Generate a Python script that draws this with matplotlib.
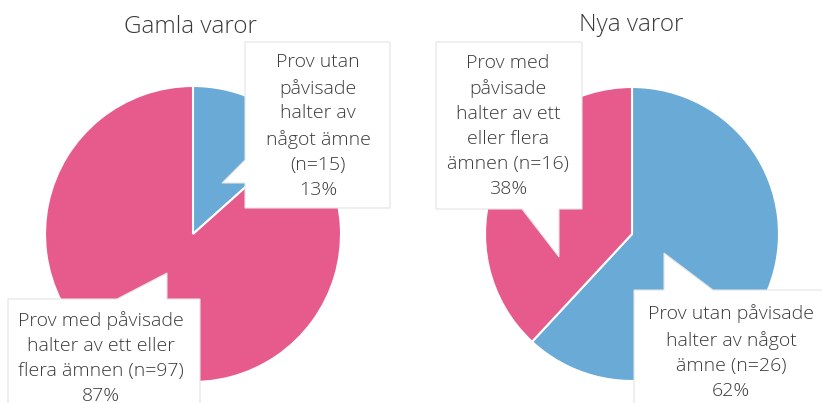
import textwrap
import matplotlib
matplotlib.use("Agg")
import matplotlib.pyplot as plt
from matplotlib.patches import Polygon

plt.rcParams['font.family'] = ['Open Sans', 'DejaVu Sans']

# data
titles = ["Gamla varor", "Nya varor"]
categories = ["Prov utan påvisade halter av något ämne",
              "Prov med påvisade halter av ett eller flera ämnen"]
old_counts = [15, 97]
new_counts = [26, 16]
colors = ["#6aaad6", "#e75b8c"]

H = 403
fig = plt.figure(figsize=(8.22, 4.03), dpi=100)
ax = fig.add_axes([0, 0, 1, 1])
ax.set_xlim(0, 822)
ax.set_ylim(0, H)
ax.set_aspect('equal')
ax.axis('off')

txt_col = "#3a3a3a"


def y(v):
    return H - v


def pie(counts, cx, cy, r):
    ax.pie(counts, colors=colors, startangle=90, counterclock=False,
           center=(cx, y(cy)), radius=r,
           wedgeprops=dict(edgecolor='white', linewidth=1.5))


def callout(pts, text, tx, ty):
    poly = Polygon([(px, y(py)) for px, py in pts], closed=True,
                   facecolor='white', edgecolor='#e4e4e4', linewidth=0.8,
                   zorder=5)
    ax.add_patch(poly)
    ax.text(tx, y(ty), text, ha='center', va='center', fontsize=14,
            fontweight='light', color=txt_col, linespacing=1.5, zorder=6)


def label(counts, i, width):
    pct = round(100 * counts[i] / sum(counts))
    body = textwrap.fill(f"{categories[i]} (n={counts[i]})", width)
    return f"{body}\n{pct}%"


pie(old_counts, 193, 234, 148)
pie(new_counts, 632, 234, 147)
ax.set_xlim(0, 822)
ax.set_ylim(0, H)

ax.text(190, y(27), titles[0], ha='center', va='center', fontsize=17.5,
        fontweight='light', color=txt_col)
ax.text(631, y(25), titles[1], ha='center', va='center', fontsize=17.5,
        fontweight='light', color=txt_col)

# Gamla varor callouts
callout([(245, 42), (390, 42), (390, 208), (245, 208), (245, 183),
         (222, 183), (245, 160)],
        label(old_counts, 0, 10), 318, 126)
callout([(8, 299), (117, 299), (167, 273), (167, 299), (200, 299),
         (200, 420), (8, 420)],
        label(old_counts, 1, 19), 101, 358)

# Nya varor callouts
callout([(436, 42), (582, 42), (582, 209), (559, 209), (559, 257),
         (522, 209), (436, 209)],
        label(new_counts, 1, 13), 508, 126)
callout([(634, 290), (664, 290), (664, 253), (713, 290), (830, 290),
         (830, 420), (634, 420)],
        label(new_counts, 0, 18), 731, 352)

fig.savefig("out.png", dpi=100)
